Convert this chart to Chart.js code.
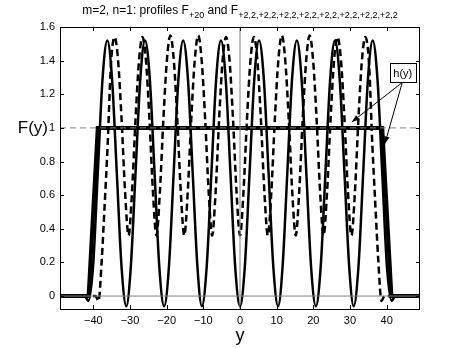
<!DOCTYPE html>
<html><head><meta charset="utf-8">
<script src="https://cdn.jsdelivr.net/npm/chart.js@4/dist/chart.umd.min.js"></script>
<style>html,body{margin:0;padding:0;background:#fff}canvas{display:block}</style>
</head><body>
<canvas id="c" width="464" height="348"></canvas>
<script>
// ---- data ----
const xTicks = [-40, -30, -20, -10, 0, 10, 20, 30, 40];
const yTicks = [0, 0.2, 0.4, 0.6, 0.8, 1, 1.2, 1.4, 1.6];
const xRange = [-49.1, 49.1];
const yRange = [-0.077, 1.6];

// solid profile F_{+20}
const solidX = [-49.1, -42.3, -41.4, -40.1, -38.8, -37.5, -36.2, -34.9, -33.6, -32.3, -31.0, -29.8, -28.5, -27.2, -25.9, -24.6, -23.3, -22.0, -20.7, -19.4, -18.1, -16.8, -15.5, -14.2, -12.9, -11.6, -10.4, -9.1, -7.8, -6.5, -5.2, -3.9, -2.6, -1.3, 0,
  1.3, 2.6, 3.9, 5.2, 6.5, 7.8, 9.1, 10.4, 11.6, 12.9, 14.2, 15.5, 16.8, 18.1, 19.4, 20.7, 22.0, 23.3, 24.6, 25.9, 27.2, 28.5, 29.8, 31.0, 32.3, 33.6, 34.9, 36.2, 37.5, 38.8, 40.1, 41.4, 42.3, 49.1];
const solidY = [0, 0, -0.03, 0.17, 0.73, 1.29, 1.52, 1.29, 0.73, 0.17, -0.06, 0.17, 0.73, 1.29, 1.52, 1.29, 0.73, 0.17, -0.06, 0.17, 0.73, 1.29, 1.52, 1.29, 0.73, 0.17, -0.06, 0.17, 0.73, 1.29, 1.52, 1.29, 0.73, 0.17, -0.06,
  0.17, 0.73, 1.29, 1.52, 1.29, 0.73, 0.17, -0.06, 0.17, 0.73, 1.29, 1.52, 1.29, 0.73, 0.17, -0.06, 0.17, 0.73, 1.29, 1.52, 1.29, 0.73, 0.17, -0.06, 0.17, 0.73, 1.29, 1.52, 1.29, 0.73, 0.17, -0.03, 0, 0];

// dashed profile F_{+2,2,...}
const dashX = [-49.1, -39.4, -38.6, -37.7, -36.9, -36.1, -35.2, -34.2, -33.25, -32.3, -31.35, -30.4, -29.45, -28.5, -27.55, -26.6, -25.65, -24.7, -23.75, -22.8, -21.85, -20.9, -19.95, -19.0, -18.05, -17.1, -16.15, -15.2, -14.25, -13.3, -12.35, -11.4, -10.45, -9.5, -8.55, -7.6, -6.65, -5.7, -4.75, -3.8, -2.85, -1.9, -0.95, 0,
  0.95, 1.9, 2.85, 3.8, 4.75, 5.7, 6.65, 7.6, 8.55, 9.5, 10.45, 11.4, 12.35, 13.3, 14.25, 15.2, 16.15, 17.1, 18.05, 19.0, 19.95, 20.9, 21.85, 22.8, 23.75, 24.7, 25.65, 26.6, 27.55, 28.5, 29.45, 30.4, 31.35, 32.3, 33.25, 34.2, 35.2, 36.1, 36.9, 37.7, 38.6, 39.4, 49.1];
const dashY = [0, 0, -0.03, 0.22, 0.55, 0.9, 1.38, 1.54, 1.40, 1.05, 0.62, 0.36, 0.62, 1.05, 1.40, 1.54, 1.40, 1.05, 0.62, 0.36, 0.62, 1.05, 1.40, 1.55, 1.40, 1.05, 0.62, 0.36, 0.62, 1.05, 1.40, 1.55, 1.40, 1.05, 0.62, 0.36, 0.62, 1.05, 1.40, 1.54, 1.40, 1.05, 0.62, 0.36,
  0.62, 1.05, 1.40, 1.54, 1.40, 1.05, 0.62, 0.36, 0.62, 1.05, 1.40, 1.55, 1.40, 1.05, 0.62, 0.36, 0.62, 1.05, 1.40, 1.55, 1.40, 1.05, 0.62, 0.36, 0.62, 1.05, 1.40, 1.54, 1.40, 1.05, 0.62, 0.36, 0.62, 1.05, 1.40, 1.54, 1.38, 0.9, 0.55, 0.22, -0.03, 0, 0];

// h(y) trapezoid
const hX = [-49.1, -41.3, -38.8, 38.8, 41.3, 49.1];
const hY = [0, 0, 1, 1, 0, 0];

// reference lines
const zeroLineX = [-49.1, 49.1], zeroLineY = [0, 0];
const oneLineX = [-49.1, 49.1], oneLineY = [1, 1];
const vLineX = [0, 0], vLineY = [-0.077, 1.6];

// annotation (data coords)
const annoText = 'h(y)';
const annoBox = { x0: 40.9, x1: 47.9, y0: 1.385, y1: 1.27 };
const annoTips = [[30.5, 1.035], [39.5, 0.905]];

const titleParts = [
  ['m=2, n=1: profiles F', false], ['+20', true], [' and F', false],
  ['+2,2,+2,2,+2,2,+2,2,+2,2,+2,2,+2,2,+2,2', true]
];

// ---- chart ----
const zip = (xs, ys) => xs.map((x, i) => ({ x: x, y: ys[i] }));
const FONT = "'Liberation Sans', Arial, Helvetica, sans-serif";
Chart.defaults.font.family = FONT;
Chart.defaults.font.size = 11;
Chart.defaults.color = '#000';

const decor = {
  id: 'decor',
  afterDraw(chart) {
    const ctx = chart.ctx, a = chart.chartArea;
    const xs = chart.scales.x, ys = chart.scales.y;
    ctx.save();
    // frame
    ctx.strokeStyle = '#000'; ctx.lineWidth = 1; ctx.setLineDash([]);
    ctx.strokeRect(a.left + 0.5, a.top + 0.5, a.right - a.left - 1, a.bottom - a.top);
    // inward ticks
    ctx.beginPath();
    xTicks.forEach(v => {
      const p = Math.round(xs.getPixelForValue(v)) + 0.5;
      ctx.moveTo(p, a.bottom); ctx.lineTo(p, a.bottom - 4);
      ctx.moveTo(p, a.top); ctx.lineTo(p, a.top + 4);
    });
    yTicks.forEach(v => {
      const p = Math.round(ys.getPixelForValue(v)) + 0.5;
      ctx.moveTo(a.left, p); ctx.lineTo(a.left + 4, p);
      ctx.moveTo(a.right, p); ctx.lineTo(a.right - 4, p);
    });
    ctx.stroke();
    // title
    const big = '12px ' + FONT, small = '9px ' + FONT;
    let w = 0;
    titleParts.forEach(([t, s]) => { ctx.font = s ? small : big; w += ctx.measureText(t).width; });
    let x = (a.left + a.right) / 2 - w / 2;
    ctx.fillStyle = '#000'; ctx.textBaseline = 'alphabetic'; ctx.textAlign = 'left';
    titleParts.forEach(([t, s]) => {
      ctx.font = s ? small : big;
      ctx.fillText(t, x, s ? 18 : 14);
      x += ctx.measureText(t).width;
    });
    // axis labels
    ctx.font = '17px ' + FONT;
    ctx.textAlign = 'right'; ctx.textBaseline = 'middle';
    ctx.fillText('F(y)', 48, ys.getPixelForValue(1));
    ctx.textAlign = 'center'; ctx.textBaseline = 'alphabetic';
    ctx.font = '18px ' + FONT;
    ctx.fillText('y', (a.left + a.right) / 2, 341);
    // annotation
    const bx0 = xs.getPixelForValue(annoBox.x0), bx1 = xs.getPixelForValue(annoBox.x1);
    const by0 = ys.getPixelForValue(annoBox.y0), by1 = ys.getPixelForValue(annoBox.y1);
    ctx.fillStyle = '#fff';
    ctx.fillRect(bx0, by0, bx1 - bx0, by1 - by0);
    ctx.strokeStyle = '#000'; ctx.lineWidth = 1;
    ctx.strokeRect(Math.round(bx0) + 0.5, Math.round(by0) + 0.5, Math.round(bx1 - bx0), Math.round(by1 - by0));
    ctx.fillStyle = '#000'; ctx.font = '11px ' + FONT;
    ctx.textAlign = 'center'; ctx.textBaseline = 'middle';
    ctx.fillText(annoText, (bx0 + bx1) / 2, (by0 + by1) / 2 + 1);
    const sx = (bx0 + bx1) / 2 - 0.5, sy = by1;
    annoTips.forEach(([tx, ty]) => {
      const px = xs.getPixelForValue(tx), py = ys.getPixelForValue(ty);
      ctx.beginPath(); ctx.moveTo(sx, sy); ctx.lineTo(px, py); ctx.stroke();
      const ang = Math.atan2(py - sy, px - sx), L = 8, W = 0.35;
      ctx.beginPath();
      ctx.moveTo(px, py);
      ctx.lineTo(px - L * Math.cos(ang - W), py - L * Math.sin(ang - W));
      ctx.lineTo(px - L * Math.cos(ang + W), py - L * Math.sin(ang + W));
      ctx.closePath(); ctx.fill();
    });
    ctx.restore();
  }
};

const grayLine = { borderColor: '#808080', borderWidth: 1, pointRadius: 0, tension: 0, fill: false };

new Chart(document.getElementById('c'), {
  type: 'line',
  data: {
    datasets: [
      Object.assign({ data: zip(zeroLineX, zeroLineY) }, grayLine),
      Object.assign({ data: zip(vLineX, vLineY) }, grayLine),
      Object.assign({ data: zip(oneLineX, oneLineY), borderDash: [6, 4] }, grayLine),
      { data: zip(dashX, dashY), borderColor: '#000', borderWidth: 2.5, borderDash: [7, 4], pointRadius: 0, cubicInterpolationMode: 'monotone', fill: false },
      { data: zip(solidX, solidY), borderColor: '#000', borderWidth: 2.5, pointRadius: 0, cubicInterpolationMode: 'monotone', fill: false },
      { data: zip(hX, hY), borderColor: '#000', borderWidth: 4, pointRadius: 0, tension: 0, fill: false, borderJoinStyle: 'miter' }
    ]
  },
  options: {
    responsive: false, animation: false, devicePixelRatio: 1,
    layout: { padding: { top: 27, right: 44, left: 0, bottom: 0 } },
    plugins: { legend: { display: false }, tooltip: { enabled: false }, title: { display: false } },
    scales: {
      x: {
        type: 'linear', min: xRange[0], max: xRange[1],
        grid: { display: false, drawTicks: false }, border: { display: false },
        afterBuildTicks: s => { s.ticks = xTicks.map(v => ({ value: v })); },
        afterFit: s => { s.height = 39; },
        ticks: { padding: 5, maxRotation: 0, autoSkip: false, callback: v => String(v).replace('-', '\u2212') }
      },
      y: {
        type: 'linear', min: yRange[0], max: yRange[1],
        grid: { display: false, drawTicks: false }, border: { display: false },
        afterBuildTicks: s => { s.ticks = yTicks.map(v => ({ value: v })); },
        afterFit: s => { s.width = 60; },
        ticks: { padding: 5, autoSkip: false, callback: v => String(Math.round(v * 10) / 10) }
      }
    }
  },
  plugins: [decor]
});
</script>
</body></html>
